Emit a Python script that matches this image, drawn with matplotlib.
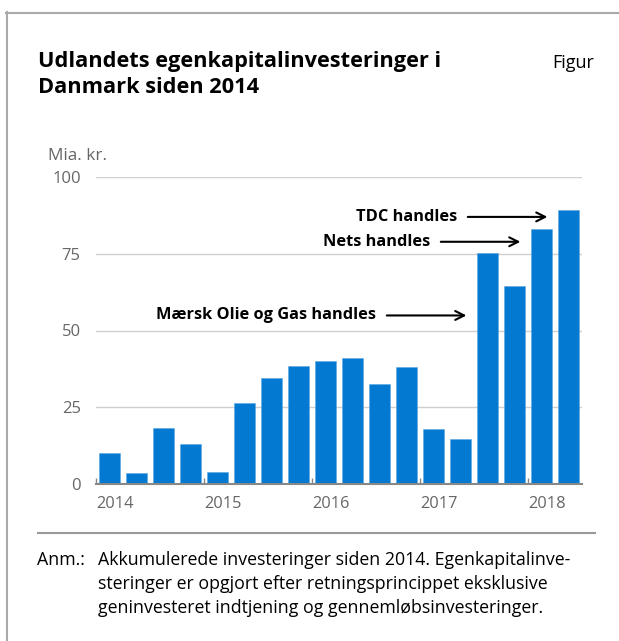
import matplotlib
matplotlib.use("Agg")
import matplotlib.pyplot as plt
from matplotlib.lines import Line2D

plt.rcParams["font.family"] = ["Open Sans", "DejaVu Sans"]

# Akkumulerede investeringer, kvartalsvis 2014K1 - 2018K2 (mia. kr.)
quarters = ["2014K1", "2014K2", "2014K3", "2014K4",
            "2015K1", "2015K2", "2015K3", "2015K4",
            "2016K1", "2016K2", "2016K3", "2016K4",
            "2017K1", "2017K2", "2017K3", "2017K4",
            "2018K1", "2018K2"]
values = [10.1, 3.5, 18.1, 13.0, 3.8, 26.4, 34.5, 38.5, 40.0,
          41.1, 32.5, 38.1, 18.0, 14.8, 75.2, 64.4, 83.2, 89.2]
years = ["2014", "2015", "2016", "2017", "2018"]
yticks = [0, 25, 50, 75, 100]

# (tekst, index for bar, niveau for pil)
notes = [("TDC handles", 17, 87.0),
         ("Nets handles", 16, 78.9),
         ("Mærsk Olie og Gas handles", 14, 54.9)]

W, H = 619, 641
fig = plt.figure(figsize=(W / 100, H / 100), dpi=100)

def fx(px):
    return px / W

def fy(py):
    return 1 - py / H

# ramme
frame = "#aaaaaa"
fig.add_artist(Line2D([fx(6), 1.0], [fy(13), fy(13)], color=frame, lw=1.5))
fig.add_artist(Line2D([fx(7), fx(7)], [fy(12), 0.0], color=frame, lw=1.5))

ax = fig.add_axes([fx(96), fy(484), fx(582) - fx(96), fy(177) - fy(484)])
x = list(range(len(values)))
ax.bar(x, values, width=0.78, color="#0479d1", edgecolor="#5aa6e0", linewidth=0.4, zorder=3)

ax.set_xlim(-0.5, len(values) - 0.5)
ax.set_ylim(0, 100)
ax.set_yticks(yticks)
ax.set_yticklabels([str(v) for v in yticks])
ax.grid(axis="y", color="#cfcfcf", lw=1.0, zorder=0)
ax.tick_params(axis="y", length=0, pad=11, labelsize=12, labelcolor="#666666")

tick_pos = [i * 4 - 0.5 for i in range(len(years))]
ax.set_xticks(tick_pos)
ax.set_xticklabels(years)
for lab in ax.get_xticklabels():
    lab.set_horizontalalignment("left")
ax.tick_params(axis="x", direction="in", length=4, width=1, color="#888888",
               pad=9, labelsize=11.8, labelcolor="#666666")

for s in ["top", "right", "left"]:
    ax.spines[s].set_visible(False)
ax.spines["bottom"].set_color("#888888")
ax.spines["bottom"].set_linewidth(1.5)
ax.spines["bottom"].set_zorder(4)

for txt, idx, lvl in notes:
    end = idx - 0.78
    start = end - 2.95
    ax.annotate("", xy=(end, lvl), xytext=(start, lvl),
                arrowprops=dict(arrowstyle="->", lw=1.5, color="black",
                                mutation_scale=16, shrinkA=0, shrinkB=0))
    ax.text(start - 0.4, lvl, txt, ha="right", va="center",
            fontsize=11.8, fontweight="bold", color="black")

# tekster
fig.text(fx(38), fy(67), "Udlandets egenkapitalinvesteringer i",
         fontsize=15.7, fontweight="bold", va="baseline")
fig.text(fx(38), fy(93), "Danmark siden 2014",
         fontsize=15.7, fontweight="bold", va="baseline")
fig.text(fx(594), fy(68), "Figur", fontsize=13, ha="right", va="baseline")
fig.text(fx(48), fy(160), "Mia. kr.", fontsize=12.3, color="#666666", va="baseline")

fig.add_artist(Line2D([fx(38), fx(595)], [fy(533), fy(533)], color="#999999", lw=1.5))
fig.text(fx(37), fy(565), "Anm.:", fontsize=12.8, va="baseline")
anm = ["Akkumulerede investeringer siden 2014. Egenkapitalinve-",
       "steringer er opgjort efter retningsprincippet eksklusive",
       "geninvesteret indtjening og gennemløbsinvesteringer."]
for i, line in enumerate(anm):
    fig.text(fx(98), fy(565 + 24 * i), line, fontsize=12.8, va="baseline")

fig.savefig("out.png", dpi=100)
